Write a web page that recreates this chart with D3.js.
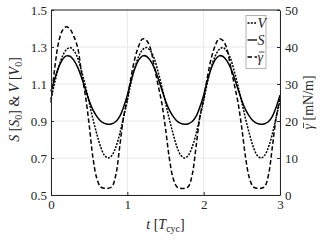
<!DOCTYPE html>
<html lang="en">
<head>
    <meta charset="UTF-8">
    <title>S, V and surface tension over cycles</title>
    <script src="https://d3js.org/d3.v7.min.js"></script>
    <style>
        body { margin: 0; background: #fff; }
        text { font-family: "Liberation Serif", "DejaVu Serif", serif; fill: #262626; }
        .axis path, .axis line { stroke: #262626; }
        .grid line { stroke: #e8e8e8; }
    </style>
</head>
<body>
    <svg width="327" height="245"></svg>
    <script>
        // time in T_cyc
        const tVals = [0, 0.05, 0.1, 0.15, 0.2, 0.25, 0.3, 0.35, 0.4, 0.45, 0.5, 0.55, 0.6, 0.65, 0.7, 0.75, 0.8, 0.85, 0.9, 0.95,
            1, 1.05, 1.1, 1.15, 1.2, 1.25, 1.3, 1.35, 1.4, 1.45, 1.5, 1.55, 1.6, 1.65, 1.7, 1.75, 1.8, 1.85, 1.9, 1.95,
            2, 2.05, 2.1, 2.15, 2.2, 2.25, 2.3, 2.35, 2.4, 2.45, 2.5, 2.55, 2.6, 2.65, 2.7, 2.75, 2.8, 2.85, 2.9, 2.95, 3];

        // volume V [V0]
        const vVals = [1.02, 1.11, 1.19, 1.25, 1.285, 1.297, 1.28, 1.24, 1.17, 1.09, 1.0, 0.91, 0.83, 0.76, 0.715, 0.70, 0.715, 0.76, 0.83, 0.92,
            1.01, 1.11, 1.19, 1.25, 1.285, 1.297, 1.28, 1.24, 1.17, 1.09, 1.0, 0.91, 0.83, 0.76, 0.715, 0.70, 0.715, 0.76, 0.83, 0.92,
            1.01, 1.11, 1.19, 1.25, 1.285, 1.297, 1.28, 1.24, 1.17, 1.09, 1.0, 0.91, 0.83, 0.76, 0.715, 0.70, 0.715, 0.76, 0.83, 0.92, 1.01];

        // surface area S [S0]
        const sVals = [1.06, 1.13, 1.19, 1.232, 1.252, 1.25, 1.228, 1.19, 1.135, 1.072, 1.01, 0.96, 0.925, 0.9, 0.887, 0.882, 0.885, 0.897, 0.925, 0.975,
            1.04, 1.12, 1.185, 1.23, 1.252, 1.25, 1.228, 1.19, 1.135, 1.072, 1.01, 0.96, 0.925, 0.9, 0.887, 0.882, 0.885, 0.897, 0.925, 0.975,
            1.04, 1.12, 1.185, 1.23, 1.252, 1.25, 1.228, 1.19, 1.135, 1.072, 1.01, 0.96, 0.925, 0.9, 0.887, 0.882, 0.885, 0.897, 0.925, 0.975, 1.04];

        // mean surface tension [mN/m]
        const gVals = [25, 34.5, 41.3, 44.5, 45.5, 44.8, 42.8, 39.8, 33, 27, 19, 10, 4.5, 2.2, 1.8, 1.8, 2.3, 5.5, 13, 21,
            26, 32, 37, 40.3, 42.2, 41.8, 39.8, 35, 30, 25, 18, 10, 4.5, 2.2, 1.8, 1.8, 2.3, 5.5, 13, 21,
            26, 32, 37, 40.3, 42.2, 41.8, 39.8, 35, 30, 25, 18, 10, 4.5, 2.2, 1.8, 1.8, 2.3, 5.5, 13, 21, 26];

        const xTicks = [0, 1, 2, 3];
        const yLeftTicks = [0.5, 0.7, 0.9, 1.1, 1.3, 1.5];
        const yRightTicks = [0, 10, 20, 30, 40, 50];

        const pLeft = 51, pRight = 280, pTop = 10, pBottom = 195;

        const x = d3.scaleLinear().domain([0, 3]).range([pLeft, pRight]);
        const y = d3.scaleLinear().domain([0.5, 1.5]).range([pBottom, pTop]);
        const y2 = d3.scaleLinear().domain([0, 50]).range([pBottom, pTop]);

        const svg = d3.select("svg");

        // grid
        const grid = svg.append("g").attr("class", "grid");
        grid.selectAll(".gy").data(yLeftTicks).join("line")
            .attr("x1", pLeft).attr("x2", pRight)
            .attr("y1", d => y(d)).attr("y2", d => y(d));
        grid.selectAll(".gx").data(xTicks).join("line")
            .attr("x1", d => x(d)).attr("x2", d => x(d))
            .attr("y1", pTop).attr("y2", pBottom);

        // curves
        const line = d3.line().curve(d3.curveCatmullRom);
        const series = [
            { vals: vVals, sc: y, dash: "2,1.3" },
            { vals: sVals, sc: y, dash: null },
            { vals: gVals, sc: y2, dash: "4.5,2.5" }
        ];
        series.forEach(s => {
            svg.append("path")
                .attr("d", line(tVals.map((t, i) => [x(t), s.sc(s.vals[i])])))
                .attr("fill", "none")
                .attr("stroke", "#000")
                .attr("stroke-width", 1.5)
                .attr("stroke-dasharray", s.dash);
        });

        // axes
        const fs = "13px";
        svg.append("g").attr("class", "axis")
            .attr("transform", `translate(0,${pBottom})`)
            .call(d3.axisBottom(x).tickValues(xTicks).tickFormat(d3.format("d")).tickSizeInner(-3).tickSizeOuter(0).tickPadding(5))
            .selectAll("text").style("font-size", fs).style("font-family", "Liberation Serif");
        svg.append("g").attr("class", "axis")
            .attr("transform", `translate(${pLeft},0)`)
            .call(d3.axisLeft(y).tickValues(yLeftTicks).tickFormat(d3.format(".1f")).tickSizeInner(-3).tickSizeOuter(0).tickPadding(4))
            .selectAll("text").style("font-size", fs).style("font-family", "Liberation Serif");
        svg.append("g").attr("class", "axis")
            .attr("transform", `translate(${pRight},0)`)
            .call(d3.axisRight(y2).tickValues(yRightTicks).tickFormat(d3.format("d")).tickSizeInner(-3).tickSizeOuter(0).tickPadding(5))
            .selectAll("text").style("font-size", fs).style("font-family", "Liberation Serif");
        svg.append("line").attr("x1", pLeft).attr("x2", pRight).attr("y1", pTop).attr("y2", pTop)
            .attr("stroke", "#262626");
        svg.selectAll(".axis .domain").attr("stroke", "#262626");

        // axis labels
        const xl = svg.append("text").attr("x", (pLeft + pRight) / 2).attr("y", 229)
            .attr("text-anchor", "middle").style("font-size", "14px");
        xl.append("tspan").attr("font-style", "italic").text("t");
        xl.append("tspan").text(" [");
        xl.append("tspan").attr("font-style", "italic").text("T");
        xl.append("tspan").attr("font-size", "10px").attr("dy", 3).text("cyc");
        xl.append("tspan").attr("dy", -3).text("]");

        const yl = svg.append("text").attr("transform", `translate(19,${(pTop + pBottom) / 2 - 3}) rotate(-90)`)
            .attr("text-anchor", "middle").style("font-size", "14px");
        yl.append("tspan").attr("font-style", "italic").text("S");
        yl.append("tspan").text(" [");
        yl.append("tspan").attr("font-style", "italic").text("S");
        yl.append("tspan").attr("font-size", "10px").attr("dy", 3).text("0");
        yl.append("tspan").attr("dy", -3).text("] & ");
        yl.append("tspan").attr("font-style", "italic").text("V");
        yl.append("tspan").text(" [");
        yl.append("tspan").attr("font-style", "italic").text("V");
        yl.append("tspan").attr("font-size", "10px").attr("dy", 3).text("0");
        yl.append("tspan").attr("dy", -3).text("]");

        // right label: gamma with a drawn bar
        const yrG = svg.append("g").attr("transform", `translate(313,${(pTop + pBottom) / 2}) rotate(-90)`);
        const yrT = yrG.append("text").style("font-size", "14px");
        yrT.append("tspan").attr("font-style", "italic").text("\u03b3");
        yrT.append("tspan").text(" [mN/m]");
        const yrW = yrT.node().getComputedTextLength();
        yrT.attr("x", -yrW / 2);
        yrG.append("line").attr("x1", -yrW / 2 + 1.5).attr("x2", -yrW / 2 + 7)
            .attr("y1", -9.5).attr("y2", -9.5).attr("stroke", "#262626").attr("stroke-width", 0.8);

        // legend
        const lg = svg.append("g");
        lg.append("rect").attr("x", 246).attr("y", 15.5).attr("width", 20).attr("height", 53)
            .attr("fill", "#fff").attr("stroke", "#a0a0a0").attr("stroke-width", 0.8);
        const items = [
            { name: "V", dash: "2,1.3", yy: 23 },
            { name: "S", dash: null, yy: 40 },
            { name: "\u03b3", dash: "4.5,2.5", yy: 57, bar: true }
        ];
        items.forEach(it => {
            lg.append("line").attr("x1", 247.5).attr("x2", 257).attr("y1", it.yy).attr("y2", it.yy)
                .attr("stroke", "#000").attr("stroke-width", 1.3).attr("stroke-dasharray", it.dash);
            lg.append("text").attr("x", 257.5).attr("y", it.yy + 4.5)
                .attr("font-style", "italic").style("font-size", "14px").text(it.name);
            if (it.bar) {
                lg.append("line").attr("x1", 259).attr("x2", 264.5)
                    .attr("y1", it.yy - 5).attr("y2", it.yy - 5)
                    .attr("stroke", "#262626").attr("stroke-width", 0.8);
            }
        });
    </script>
</body>
</html>
